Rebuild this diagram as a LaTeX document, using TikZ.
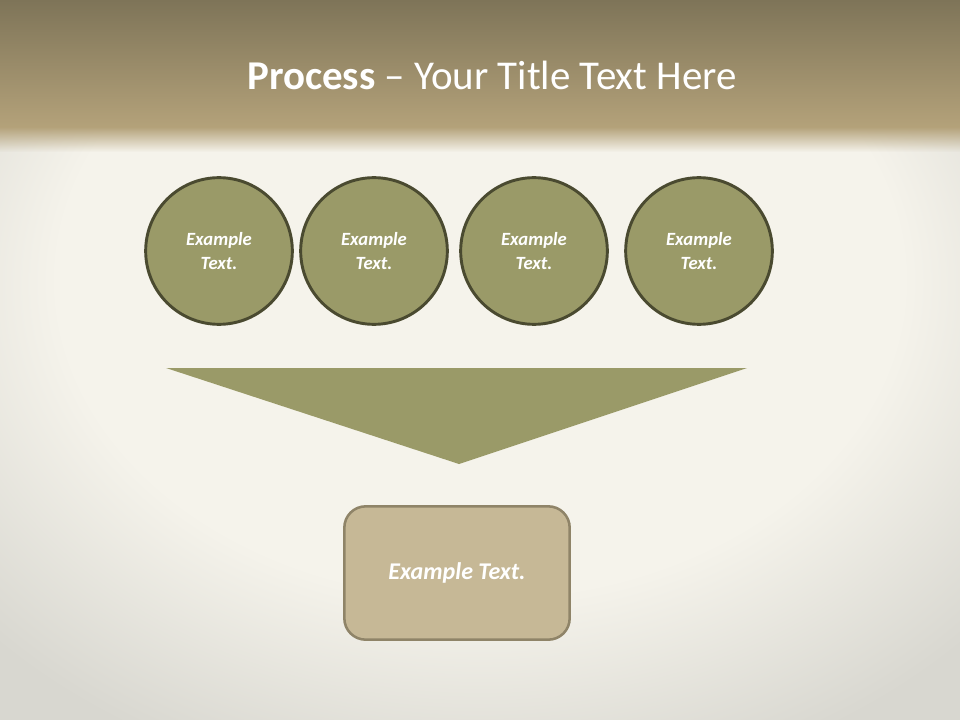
\documentclass[tikz,border=0pt]{standalone}
\usepackage{fontspec}
\setmainfont{Carlito}
\usetikzlibrary{fadings}
\definecolor{head_top}{HTML}{7E7458}
\definecolor{head_bot}{HTML}{B4A27A}
\definecolor{paper_mid}{HTML}{F5F3EB}
\definecolor{paper_edge}{HTML}{D8D7D0}
\definecolor{olive_fill}{HTML}{9A9A68}
\definecolor{olive_line}{HTML}{4A4A30}
\definecolor{sand_fill}{HTML}{C6B896}
\definecolor{sand_line}{HTML}{8F8468}
\pgfdeclareradialshading{paper}{\pgfpoint{0bp}{10bp}}{color(0bp)=(paper_mid); color(22bp)=(paper_mid); color(34bp)=(paper_edge); color(50bp)=(paper_edge)}

\begin{document}
\begin{tikzpicture}[
  x=0.75pt, y=-0.75pt,
  circle_node/.style={circle, minimum size = 110pt, inner sep=0pt, fill=olive_fill, draw=olive_line, line width=2.2pt, text=white, align=center, font=\fontsize{14}{17.5}\selectfont\bfseries\itshape},
  box_node/.style={rectangle, rounded corners=16pt, minimum width = 169pt, minimum height = 100pt, inner sep=0pt, fill=sand_fill, draw=sand_line, line width=1.9pt, text=white, font=\fontsize{18}{22}\selectfont\bfseries\itshape},
]
\useasboundingbox (0,0) rectangle (960,720);
% background
\shade[shading=paper] (0,0) rectangle (960,720);
\shade[top color=head_top, bottom color=head_bot] (0,0) rectangle (960,128);
\fill[head_bot, path fading=south] (0,127) rectangle (960,152);
\draw (492,75) node (title) [text=white, font=\fontsize{30.7}{36}\selectfont] {\textbf{Process} – Your Title Text Here};
% circles
\draw (219,251) node (c1) [circle_node] {Example\\Text.};
\draw (374,251) node (c2) [circle_node] {Example\\Text.};
\draw (534,251) node (c3) [circle_node] {Example\\Text.};
\draw (699,251) node (c4) [circle_node] {Example\\Text.};
% funnel
\coordinate (fl) at (166,368);
\coordinate (fr) at (747,368);
\coordinate (fb) at (459,464);
\fill[olive_fill] (fl) -- (fr) -- (fb) -- cycle;
% result
\draw (457,573) node (res) [box_node] {Example Text.};
\end{tikzpicture}
\end{document}
